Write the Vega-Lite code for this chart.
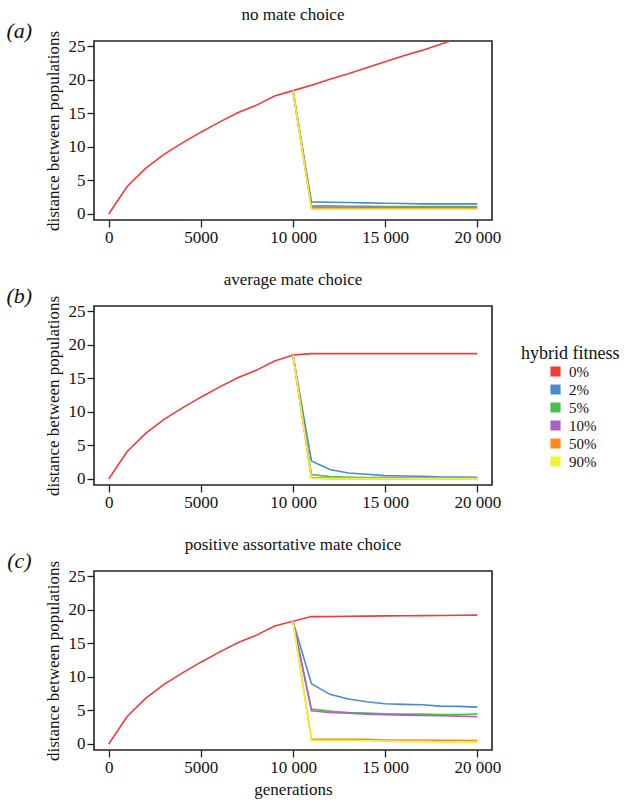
{
  "$schema": "https://vega.github.io/schema/vega-lite/v6.json",
  "background": "white",
  "padding": 5,
  "datasets": {
    "d": [
      {"p":"a","f":"0%","g":0,"d":0},{"p":"a","f":"0%","g":1000,"d":4.1},{"p":"a","f":"0%","g":2000,"d":6.8},{"p":"a","f":"0%","g":3000,"d":8.9},{"p":"a","f":"0%","g":4000,"d":10.6},{"p":"a","f":"0%","g":5000,"d":12.2},{"p":"a","f":"0%","g":6000,"d":13.7},{"p":"a","f":"0%","g":7000,"d":15.1},{"p":"a","f":"0%","g":8000,"d":16.2},{"p":"a","f":"0%","g":9000,"d":17.6},{"p":"a","f":"0%","g":10000,"d":18.4},{"p":"a","f":"0%","g":11000,"d":19.2},{"p":"a","f":"0%","g":12000,"d":20.1},{"p":"a","f":"0%","g":13000,"d":20.9},{"p":"a","f":"0%","g":14000,"d":21.8},{"p":"a","f":"0%","g":15000,"d":22.7},{"p":"a","f":"0%","g":16000,"d":23.6},{"p":"a","f":"0%","g":17000,"d":24.4},{"p":"a","f":"0%","g":18000,"d":25.3},{"p":"a","f":"0%","g":19000,"d":26.2},{"p":"a","f":"0%","g":20000,"d":27.1},
      {"p":"a","f":"2%","g":10000,"d":18.4},{"p":"a","f":"2%","g":11000,"d":1.8},{"p":"a","f":"2%","g":12000,"d":1.75},{"p":"a","f":"2%","g":13000,"d":1.7},{"p":"a","f":"2%","g":14000,"d":1.65},{"p":"a","f":"2%","g":15000,"d":1.6},{"p":"a","f":"2%","g":16000,"d":1.55},{"p":"a","f":"2%","g":17000,"d":1.5},{"p":"a","f":"2%","g":18000,"d":1.5},{"p":"a","f":"2%","g":19000,"d":1.5},{"p":"a","f":"2%","g":20000,"d":1.5},
      {"p":"a","f":"5%","g":10000,"d":18.4},{"p":"a","f":"5%","g":11000,"d":1.2},{"p":"a","f":"5%","g":12000,"d":1.2},{"p":"a","f":"5%","g":13000,"d":1.15},{"p":"a","f":"5%","g":14000,"d":1.15},{"p":"a","f":"5%","g":15000,"d":1.1},{"p":"a","f":"5%","g":16000,"d":1.1},{"p":"a","f":"5%","g":17000,"d":1.1},{"p":"a","f":"5%","g":18000,"d":1.1},{"p":"a","f":"5%","g":19000,"d":1.1},{"p":"a","f":"5%","g":20000,"d":1.1},
      {"p":"a","f":"10%","g":10000,"d":18.4},{"p":"a","f":"10%","g":11000,"d":1.0},{"p":"a","f":"10%","g":12000,"d":1.0},{"p":"a","f":"10%","g":13000,"d":1.0},{"p":"a","f":"10%","g":14000,"d":1.0},{"p":"a","f":"10%","g":15000,"d":0.95},{"p":"a","f":"10%","g":16000,"d":0.95},{"p":"a","f":"10%","g":17000,"d":0.95},{"p":"a","f":"10%","g":18000,"d":0.95},{"p":"a","f":"10%","g":19000,"d":0.95},{"p":"a","f":"10%","g":20000,"d":0.95},
      {"p":"a","f":"50%","g":10000,"d":18.4},{"p":"a","f":"50%","g":11000,"d":0.85},{"p":"a","f":"50%","g":12000,"d":0.85},{"p":"a","f":"50%","g":13000,"d":0.85},{"p":"a","f":"50%","g":14000,"d":0.8},{"p":"a","f":"50%","g":15000,"d":0.8},{"p":"a","f":"50%","g":16000,"d":0.8},{"p":"a","f":"50%","g":17000,"d":0.8},{"p":"a","f":"50%","g":18000,"d":0.8},{"p":"a","f":"50%","g":19000,"d":0.8},{"p":"a","f":"50%","g":20000,"d":0.8},
      {"p":"a","f":"90%","g":10000,"d":18.4},{"p":"a","f":"90%","g":11000,"d":0.7},{"p":"a","f":"90%","g":12000,"d":0.7},{"p":"a","f":"90%","g":13000,"d":0.7},{"p":"a","f":"90%","g":14000,"d":0.7},{"p":"a","f":"90%","g":15000,"d":0.7},{"p":"a","f":"90%","g":16000,"d":0.7},{"p":"a","f":"90%","g":17000,"d":0.7},{"p":"a","f":"90%","g":18000,"d":0.7},{"p":"a","f":"90%","g":19000,"d":0.7},{"p":"a","f":"90%","g":20000,"d":0.7},

      {"p":"b","f":"0%","g":0,"d":0},{"p":"b","f":"0%","g":1000,"d":4.1},{"p":"b","f":"0%","g":2000,"d":6.8},{"p":"b","f":"0%","g":3000,"d":8.9},{"p":"b","f":"0%","g":4000,"d":10.6},{"p":"b","f":"0%","g":5000,"d":12.2},{"p":"b","f":"0%","g":6000,"d":13.7},{"p":"b","f":"0%","g":7000,"d":15.1},{"p":"b","f":"0%","g":8000,"d":16.2},{"p":"b","f":"0%","g":9000,"d":17.6},{"p":"b","f":"0%","g":10000,"d":18.5},{"p":"b","f":"0%","g":11000,"d":18.7},{"p":"b","f":"0%","g":12000,"d":18.7},{"p":"b","f":"0%","g":13000,"d":18.7},{"p":"b","f":"0%","g":14000,"d":18.7},{"p":"b","f":"0%","g":15000,"d":18.7},{"p":"b","f":"0%","g":16000,"d":18.7},{"p":"b","f":"0%","g":17000,"d":18.7},{"p":"b","f":"0%","g":18000,"d":18.7},{"p":"b","f":"0%","g":19000,"d":18.7},{"p":"b","f":"0%","g":20000,"d":18.7},
      {"p":"b","f":"2%","g":10000,"d":18.5},{"p":"b","f":"2%","g":11000,"d":2.7},{"p":"b","f":"2%","g":12000,"d":1.4},{"p":"b","f":"2%","g":13000,"d":0.9},{"p":"b","f":"2%","g":14000,"d":0.7},{"p":"b","f":"2%","g":15000,"d":0.5},{"p":"b","f":"2%","g":16000,"d":0.45},{"p":"b","f":"2%","g":17000,"d":0.4},{"p":"b","f":"2%","g":18000,"d":0.3},{"p":"b","f":"2%","g":19000,"d":0.3},{"p":"b","f":"2%","g":20000,"d":0.25},
      {"p":"b","f":"5%","g":10000,"d":18.5},{"p":"b","f":"5%","g":11000,"d":0.65},{"p":"b","f":"5%","g":12000,"d":0.35},{"p":"b","f":"5%","g":13000,"d":0.25},{"p":"b","f":"5%","g":14000,"d":0.2},{"p":"b","f":"5%","g":15000,"d":0.2},{"p":"b","f":"5%","g":16000,"d":0.15},{"p":"b","f":"5%","g":17000,"d":0.15},{"p":"b","f":"5%","g":18000,"d":0.15},{"p":"b","f":"5%","g":19000,"d":0.15},{"p":"b","f":"5%","g":20000,"d":0.15},
      {"p":"b","f":"10%","g":10000,"d":18.5},{"p":"b","f":"10%","g":11000,"d":0.2},{"p":"b","f":"10%","g":12000,"d":0.1},{"p":"b","f":"10%","g":13000,"d":0.1},{"p":"b","f":"10%","g":14000,"d":0.1},{"p":"b","f":"10%","g":15000,"d":0.1},{"p":"b","f":"10%","g":16000,"d":0.1},{"p":"b","f":"10%","g":17000,"d":0.1},{"p":"b","f":"10%","g":18000,"d":0.1},{"p":"b","f":"10%","g":19000,"d":0.1},{"p":"b","f":"10%","g":20000,"d":0.1},
      {"p":"b","f":"50%","g":10000,"d":18.5},{"p":"b","f":"50%","g":11000,"d":0.15},{"p":"b","f":"50%","g":12000,"d":0.05},{"p":"b","f":"50%","g":13000,"d":0.05},{"p":"b","f":"50%","g":14000,"d":0.05},{"p":"b","f":"50%","g":15000,"d":0.05},{"p":"b","f":"50%","g":16000,"d":0.05},{"p":"b","f":"50%","g":17000,"d":0.05},{"p":"b","f":"50%","g":18000,"d":0.05},{"p":"b","f":"50%","g":19000,"d":0.05},{"p":"b","f":"50%","g":20000,"d":0.05},
      {"p":"b","f":"90%","g":10000,"d":18.5},{"p":"b","f":"90%","g":11000,"d":0.1},{"p":"b","f":"90%","g":12000,"d":0.05},{"p":"b","f":"90%","g":13000,"d":0.05},{"p":"b","f":"90%","g":14000,"d":0.05},{"p":"b","f":"90%","g":15000,"d":0.05},{"p":"b","f":"90%","g":16000,"d":0.05},{"p":"b","f":"90%","g":17000,"d":0.05},{"p":"b","f":"90%","g":18000,"d":0.05},{"p":"b","f":"90%","g":19000,"d":0.05},{"p":"b","f":"90%","g":20000,"d":0.05},

      {"p":"c","f":"0%","g":0,"d":0},{"p":"c","f":"0%","g":1000,"d":4.1},{"p":"c","f":"0%","g":2000,"d":6.8},{"p":"c","f":"0%","g":3000,"d":8.9},{"p":"c","f":"0%","g":4000,"d":10.6},{"p":"c","f":"0%","g":5000,"d":12.2},{"p":"c","f":"0%","g":6000,"d":13.7},{"p":"c","f":"0%","g":7000,"d":15.1},{"p":"c","f":"0%","g":8000,"d":16.2},{"p":"c","f":"0%","g":9000,"d":17.6},{"p":"c","f":"0%","g":10000,"d":18.3},{"p":"c","f":"0%","g":11000,"d":19.0},{"p":"c","f":"0%","g":12000,"d":19.02},{"p":"c","f":"0%","g":13000,"d":19.05},{"p":"c","f":"0%","g":14000,"d":19.07},{"p":"c","f":"0%","g":15000,"d":19.1},{"p":"c","f":"0%","g":16000,"d":19.12},{"p":"c","f":"0%","g":17000,"d":19.15},{"p":"c","f":"0%","g":18000,"d":19.17},{"p":"c","f":"0%","g":19000,"d":19.2},{"p":"c","f":"0%","g":20000,"d":19.22},
      {"p":"c","f":"2%","g":10000,"d":18.3},{"p":"c","f":"2%","g":11000,"d":9.0},{"p":"c","f":"2%","g":12000,"d":7.4},{"p":"c","f":"2%","g":13000,"d":6.7},{"p":"c","f":"2%","g":14000,"d":6.3},{"p":"c","f":"2%","g":15000,"d":6.0},{"p":"c","f":"2%","g":16000,"d":5.9},{"p":"c","f":"2%","g":17000,"d":5.85},{"p":"c","f":"2%","g":18000,"d":5.65},{"p":"c","f":"2%","g":19000,"d":5.6},{"p":"c","f":"2%","g":20000,"d":5.5},
      {"p":"c","f":"5%","g":10000,"d":18.3},{"p":"c","f":"5%","g":11000,"d":5.2},{"p":"c","f":"5%","g":12000,"d":4.9},{"p":"c","f":"5%","g":13000,"d":4.7},{"p":"c","f":"5%","g":14000,"d":4.6},{"p":"c","f":"5%","g":15000,"d":4.5},{"p":"c","f":"5%","g":16000,"d":4.45},{"p":"c","f":"5%","g":17000,"d":4.45},{"p":"c","f":"5%","g":18000,"d":4.4},{"p":"c","f":"5%","g":19000,"d":4.4},{"p":"c","f":"5%","g":20000,"d":4.45},
      {"p":"c","f":"10%","g":10000,"d":18.3},{"p":"c","f":"10%","g":11000,"d":4.95},{"p":"c","f":"10%","g":12000,"d":4.7},{"p":"c","f":"10%","g":13000,"d":4.6},{"p":"c","f":"10%","g":14000,"d":4.45},{"p":"c","f":"10%","g":15000,"d":4.35},{"p":"c","f":"10%","g":16000,"d":4.3},{"p":"c","f":"10%","g":17000,"d":4.25},{"p":"c","f":"10%","g":18000,"d":4.2},{"p":"c","f":"10%","g":19000,"d":4.15},{"p":"c","f":"10%","g":20000,"d":4.05},
      {"p":"c","f":"50%","g":10000,"d":18.3},{"p":"c","f":"50%","g":11000,"d":0.7},{"p":"c","f":"50%","g":12000,"d":0.7},{"p":"c","f":"50%","g":13000,"d":0.7},{"p":"c","f":"50%","g":14000,"d":0.7},{"p":"c","f":"50%","g":15000,"d":0.6},{"p":"c","f":"50%","g":16000,"d":0.6},{"p":"c","f":"50%","g":17000,"d":0.6},{"p":"c","f":"50%","g":18000,"d":0.55},{"p":"c","f":"50%","g":19000,"d":0.55},{"p":"c","f":"50%","g":20000,"d":0.5},
      {"p":"c","f":"90%","g":10000,"d":18.3},{"p":"c","f":"90%","g":11000,"d":0.5},{"p":"c","f":"90%","g":12000,"d":0.5},{"p":"c","f":"90%","g":13000,"d":0.5},{"p":"c","f":"90%","g":14000,"d":0.45},{"p":"c","f":"90%","g":15000,"d":0.4},{"p":"c","f":"90%","g":16000,"d":0.35},{"p":"c","f":"90%","g":17000,"d":0.35},{"p":"c","f":"90%","g":18000,"d":0.3},{"p":"c","f":"90%","g":19000,"d":0.3},{"p":"c","f":"90%","g":20000,"d":0.25}
    ]
  },
  "config": {
    "font": "Liberation Serif",
    "view": {"stroke": "#222", "strokeWidth": 1.6},
    "axis": {
      "domain": false, "grid": false, "tickColor": "#222", "tickWidth": 1.3, "tickSize": 7,
      "labelFont": "Liberation Serif", "labelFontSize": 17, "labelColor": "#111", "labelPadding": 2, "labelOverlap": false,
      "titleFont": "Liberation Serif", "titleFontSize": 17, "titleFontWeight": "normal", "titleColor": "#111"
    },
    "title": {"font": "Liberation Serif", "fontSize": 17, "fontWeight": "normal", "color": "#111", "anchor": "middle", "offset": -4},
    "legend": {"titleFont": "Liberation Serif", "labelFont": "Liberation Serif"}
  },
  "resolve": {"legend": {"color": "independent"}},
  "spacing": 24,
  "vconcat": [
    {
      "title": "no mate choice",
      "width": 398, "height": 179,
      "layer": [
        {
          "data": {"name": "d"},
          "transform": [{"filter": "datum.p == 'a'"}],
          "mark": {"type": "line", "strokeWidth": 1.6, "clip": true},
          "encoding": {
            "x": {"field": "g", "type": "quantitative", "scale": {"domain": [-800, 20800], "nice": false, "zero": false},
                  "axis": {"values": [0, 5000, 10000, 15000, 20000], "title": null, "labelFont": "Liberation Serif", "labelExpr": "datum.value >= 10000 ? format(datum.value/1000, 'd') + ' 000' : format(datum.value, 'd')"}},
            "y": {"field": "d", "type": "quantitative", "scale": {"domain": [-0.9, 25.8], "nice": false, "zero": false},
                  "axis": {"values": [0, 5, 10, 15, 20, 25], "title": "distance between populations", "labelFont": "Liberation Serif", "titleFont": "Liberation Serif", "titlePadding": 6}},
            "color": {"field": "f", "type": "nominal", "legend": null,
                      "scale": {"domain": ["0%", "2%", "5%", "10%", "50%", "90%"], "range": ["#f23a3a", "#4a8bd0", "#4cbf4c", "#b05ecf", "#ff8a1c", "#f2f230"]}}
          }
        },
        {
          "data": {"values": [{"lab": "(a)"}]},
          "mark": {"type": "text", "fontSize": 22, "fontStyle": "italic", "font": "Liberation Serif", "color": "#111"},
          "encoding": {
            "x": {"datum": -4850, "type": "quantitative", "axis": {"values": [0, 5000, 10000, 15000, 20000], "title": null, "labelFont": "Liberation Serif", "labelExpr": "datum.value >= 10000 ? format(datum.value/1000, 'd') + ' 000' : format(datum.value, 'd')"}},
            "y": {"datum": 27.3, "type": "quantitative", "axis": {"values": [0, 5, 10, 15, 20, 25], "title": "distance between populations", "labelFont": "Liberation Serif", "titleFont": "Liberation Serif", "titlePadding": 6}},
            "text": {"field": "lab"}}
        }
      ]
    },
    {
      "title": "average mate choice",
      "width": 398, "height": 179,
      "layer": [
        {
          "data": {"name": "d"},
          "transform": [{"filter": "datum.p == 'b'"}],
          "mark": {"type": "line", "strokeWidth": 1.6, "clip": true},
          "encoding": {
            "x": {"field": "g", "type": "quantitative", "scale": {"domain": [-800, 20800], "nice": false, "zero": false},
                  "axis": {"values": [0, 5000, 10000, 15000, 20000], "title": null, "labelFont": "Liberation Serif", "labelExpr": "datum.value >= 10000 ? format(datum.value/1000, 'd') + ' 000' : format(datum.value, 'd')"}},
            "y": {"field": "d", "type": "quantitative", "scale": {"domain": [-0.9, 25.8], "nice": false, "zero": false},
                  "axis": {"values": [0, 5, 10, 15, 20, 25], "title": "distance between populations", "labelFont": "Liberation Serif", "titleFont": "Liberation Serif", "titlePadding": 6}},
            "color": {"field": "f", "type": "nominal",
                      "scale": {"domain": ["0%", "2%", "5%", "10%", "50%", "90%"], "range": ["#f23a3a", "#4a8bd0", "#4cbf4c", "#b05ecf", "#ff8a1c", "#f2f230"]},
                      "legend": {"orient": "none", "legendX": 427, "legendY": 39, "title": "hybrid fitness", "titleFont": "Liberation Serif", "titleFontSize": 18, "titleFontWeight": "normal", "titleColor": "#111",
                                 "labelFont": "Liberation Serif", "labelFontSize": 15, "labelColor": "#111", "symbolType": "square", "symbolSize": 80, "symbolOffset": 27, "rowPadding": 2, "labelOffset": 6, "titlePadding": 1,
                                 "symbolStrokeColor": "#333", "symbolStrokeWidth": 1.2,
                                 "encode": {"symbols": {"update": {"fill": {"scale": "color", "field": "value"}, "stroke": {"value": "#333"}, "strokeWidth": {"value": 1.2}, "opacity": {"value": 1}, "fillOpacity": {"value": 1}}}}}}
          }
        },
        {
          "data": {"values": [{"lab": "(b)"}]},
          "mark": {"type": "text", "fontSize": 22, "fontStyle": "italic", "font": "Liberation Serif", "color": "#111"},
          "encoding": {
            "x": {"datum": -4850, "type": "quantitative", "axis": {"values": [0, 5000, 10000, 15000, 20000], "title": null, "labelFont": "Liberation Serif", "labelExpr": "datum.value >= 10000 ? format(datum.value/1000, 'd') + ' 000' : format(datum.value, 'd')"}},
            "y": {"datum": 27.3, "type": "quantitative", "axis": {"values": [0, 5, 10, 15, 20, 25], "title": "distance between populations", "labelFont": "Liberation Serif", "titleFont": "Liberation Serif", "titlePadding": 6}},
            "text": {"field": "lab"}}
        }
      ]
    },
    {
      "title": "positive assortative  mate choice",
      "width": 398, "height": 179,
      "layer": [
        {
          "data": {"name": "d"},
          "transform": [{"filter": "datum.p == 'c'"}],
          "mark": {"type": "line", "strokeWidth": 1.6, "clip": true},
          "encoding": {
            "x": {"field": "g", "type": "quantitative", "scale": {"domain": [-800, 20800], "nice": false, "zero": false},
                  "axis": {"values": [0, 5000, 10000, 15000, 20000], "title": "generations", "labelFont": "Liberation Serif", "titleFont": "Liberation Serif", "titlePadding": 6, "labelExpr": "datum.value >= 10000 ? format(datum.value/1000, 'd') + ' 000' : format(datum.value, 'd')"}},
            "y": {"field": "d", "type": "quantitative", "scale": {"domain": [-0.9, 25.8], "nice": false, "zero": false},
                  "axis": {"values": [0, 5, 10, 15, 20, 25], "title": "distance between populations", "labelFont": "Liberation Serif", "titleFont": "Liberation Serif", "titlePadding": 6}},
            "color": {"field": "f", "type": "nominal", "legend": null,
                      "scale": {"domain": ["0%", "2%", "5%", "10%", "50%", "90%"], "range": ["#f23a3a", "#4a8bd0", "#4cbf4c", "#b05ecf", "#ff8a1c", "#f2f230"]}}
          }
        },
        {
          "data": {"values": [{"lab": "(c)"}]},
          "mark": {"type": "text", "fontSize": 22, "fontStyle": "italic", "font": "Liberation Serif", "color": "#111"},
          "encoding": {
            "x": {"datum": -4850, "type": "quantitative", "axis": {"values": [0, 5000, 10000, 15000, 20000], "title": "generations", "labelFont": "Liberation Serif", "titleFont": "Liberation Serif", "titlePadding": 6, "labelExpr": "datum.value >= 10000 ? format(datum.value/1000, 'd') + ' 000' : format(datum.value, 'd')"}},
            "y": {"datum": 27.3, "type": "quantitative", "axis": {"values": [0, 5, 10, 15, 20, 25], "title": "distance between populations", "labelFont": "Liberation Serif", "titleFont": "Liberation Serif", "titlePadding": 6}},
            "text": {"field": "lab"}}
        }
      ]
    }
  ]
}
